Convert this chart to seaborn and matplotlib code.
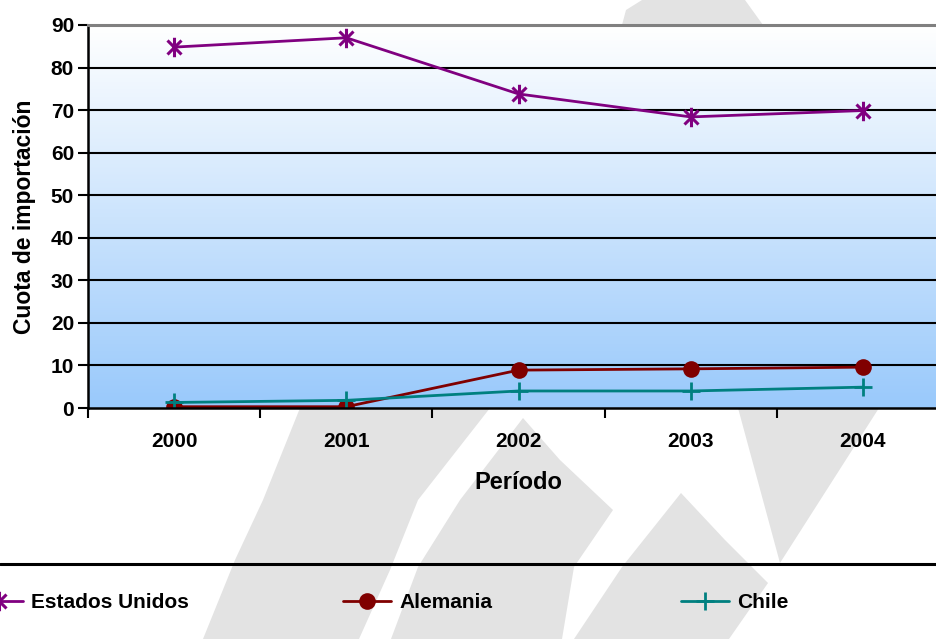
import numpy as np
import pandas as pd
import matplotlib
matplotlib.use("Agg")
import matplotlib.pyplot as plt
from matplotlib.path import Path
from matplotlib.patches import Polygon
from matplotlib.lines import Line2D
from matplotlib.colors import LinearSegmentedColormap
import seaborn as sns

# ---- data ----
periodos = ["2000", "2001", "2002", "2003", "2004"]
estados_unidos = [84.8, 87.0, 73.8, 68.4, 69.9]
alemania = [0.3, 0.3, 8.9, 9.2, 9.6]
chile = [1.3, 1.8, 4.0, 4.0, 4.9]
y_ticks = [0, 10, 20, 30, 40, 50, 60, 70, 80, 90]

sns.set_style("white")
plt.rcParams["font.family"] = ["Liberation Sans", "DejaVu Sans"]
plt.rcParams["font.weight"] = "bold"
plt.rcParams["text.color"] = "black"
plt.rcParams["axes.labelcolor"] = "black"
plt.rcParams["xtick.color"] = "black"
plt.rcParams["ytick.color"] = "black"

W, H = 937, 639
fig = plt.figure(figsize=(W / 100, H / 100), dpi=100)

def fx(x):
    return x / W

def fy(y):
    return 1 - y / H

# ---- watermark shapes (decorative background) ----
shapes = [
    [(203, 639), (235, 560), (263, 500), (300, 408), (490, 408), (418, 500), (390, 570), (359, 639)],
    [(391, 639), (418, 567), (460, 500), (523, 418), (560, 460), (613, 510), (574, 567), (562, 639)],
    [(574, 639), (622, 567), (681, 493), (725, 540), (768, 583), (729, 639)],
    [(738, 408), (780, 563), (879, 408)],
    [(622, 25), (626, 10), (642, 0), (745, 0), (763, 25)],
]
for pts in shapes:
    fig.patches.append(Polygon([(fx(x), fy(y)) for x, y in pts], closed=True,
                               transform=fig.transFigure, facecolor="#e3e3e3",
                               edgecolor="none", zorder=0))

# ---- axes ----
left, right, top, bottom = 88, 949, 25, 408
ax = fig.add_axes([fx(left), fy(bottom), (right - left) / W, (bottom - top) / H])
ax.set_zorder(1)

# gradient background
cmap = LinearSegmentedColormap.from_list("grad", ["#99c9fb", "#ffffff"])
grad = np.linspace(0, 1, 256).reshape(-1, 1)
ax.imshow(grad, cmap=cmap, aspect="auto", extent=[0, 1, 0, 1],
          transform=ax.transAxes, origin="lower", zorder=0)

x = np.arange(len(periodos))
df = pd.DataFrame({"x": x, "eu": estados_unidos, "al": alemania, "ch": chile})

ast = Path([(0, -1), (0, 1), (-0.72, -0.72), (0.72, 0.72), (-0.72, 0.72), (0.72, -0.72)],
           [Path.MOVETO, Path.LINETO, Path.MOVETO, Path.LINETO, Path.MOVETO, Path.LINETO])

c_eu, c_al, c_ch = "#800080", "#800000", "#008080"
sns.lineplot(data=df, x="x", y="eu", ax=ax, color=c_eu, lw=2.0, marker=ast,
             markersize=14, markeredgewidth=2.2, markeredgecolor=c_eu, zorder=5)
sns.lineplot(data=df, x="x", y="al", ax=ax, color=c_al, lw=2.0, marker="o",
             markersize=12, markeredgewidth=0, markerfacecolor=c_al, zorder=5)
sns.lineplot(data=df, x="x", y="ch", ax=ax, color=c_ch, lw=2.0, marker="+",
             markersize=13, markeredgewidth=2, markeredgecolor=c_ch, zorder=6)

ax.set_xlim(-0.5, 4.5)
ax.set_ylim(0, 90)
ax.set_yticks(y_ticks)
ax.set_yticklabels([str(t) for t in y_ticks], fontsize=15, fontweight="bold")
for t in y_ticks[1:-1]:
    ax.axhline(t, color="black", lw=1.5, zorder=2)

ax.set_xticks(x)
ax.set_xticklabels(periodos, fontsize=15, fontweight="bold")
ax.set_xticks(np.arange(-0.5, 5.0, 1.0), minor=True)
ax.tick_params(axis="x", which="major", length=0, pad=17)
ax.tick_params(axis="x", which="minor", length=7, width=1.5, direction="out", color="black", bottom=True)
ax.tick_params(axis="y", length=7, width=1.5, direction="out", color="black", left=True, pad=3)

for s in ["left", "bottom"]:
    ax.spines[s].set_color("black")
    ax.spines[s].set_linewidth(1.8)
ax.spines["top"].set_color("#808080")
ax.spines["top"].set_linewidth(2.2)
ax.spines["right"].set_visible(False)
for sp in ax.spines.values():
    sp.set_zorder(7)

ax.set_xlabel("Período", fontsize=17, fontweight="bold")
ax.set_ylabel("Cuota de importación", fontsize=16.5, fontweight="bold")
ax.xaxis.set_label_coords((518 - left) / (right - left), -(471 - bottom) / (bottom - top))
ax.yaxis.set_label_coords(-(88 - 36) / (right - left), 0.5)

# ---- legend area ----
fig.add_artist(Line2D([0, 1], [fy(564), fy(564)], transform=fig.transFigure,
                      color="black", lw=2.2))

h_eu = Line2D([], [], color=c_eu, lw=2.0, marker=ast, markersize=14, markeredgewidth=2.2)
h_al = Line2D([], [], color=c_al, lw=2.0, marker="o", markersize=12, markeredgewidth=0)
h_ch = Line2D([], [], color=c_ch, lw=2.0, marker="+", markersize=13, markeredgewidth=2)
for h, lab, xpos in [(h_eu, "Estados Unidos", -25), (h_al, "Alemania", 343), (h_ch, "Chile", 681)]:
    fig.legend([h], [lab], loc="center left", bbox_to_anchor=(fx(xpos), fy(603)),
               frameon=False, handlelength=2.3, handletextpad=0.4, borderpad=0,
               borderaxespad=0, prop={"size": 15, "weight": "bold"})

fig.savefig("out.png", dpi=100)
